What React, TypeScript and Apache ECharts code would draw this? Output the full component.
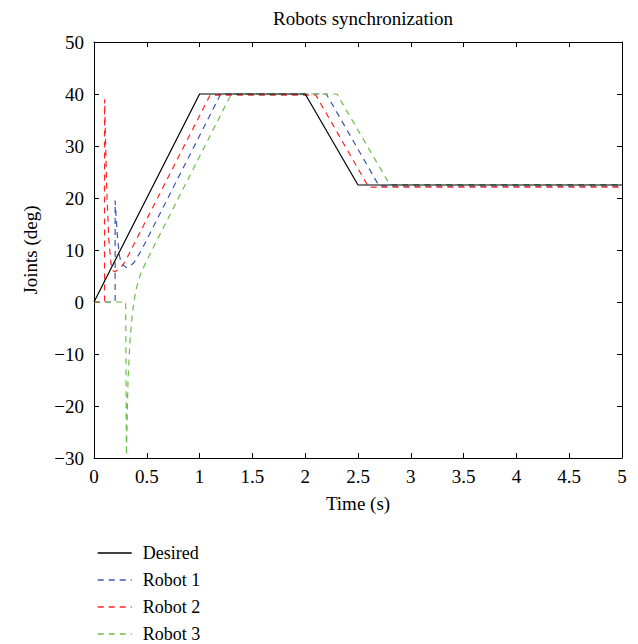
import React, { useEffect, useRef } from "react";
import * as echarts from "echarts";

const desiredT = [0, 1, 2, 2.5, 5];
const desiredV = [0, 40, 40, 22.5, 22.5];

const robot1T = [0, 0.2, 0.2, 0.22, 0.24, 0.26, 0.28, 0.31, 0.34, 0.38, 0.45, 1.2, 2.2, 2.7, 5];
const robot1V = [0, 0, 19.5, 13, 9, 7.3, 7, 6.6, 6.9, 7.6, 10, 40, 40, 22.3, 22.3];

const robot2T = [0, 0.1, 0.1, 0.12, 0.14, 0.16, 0.18, 0.2, 0.23, 0.27, 0.3, 1.1, 2.1, 2.6, 5];
const robot2V = [0, 0, 39, 22, 12, 7.5, 6, 5.8, 6.3, 7, 8, 39.8, 39.8, 22.1, 22.1];

const robot3T = [0, 0.3, 0.307, 0.322, 0.341, 0.363, 0.395, 0.442, 0.505, 1.3, 2.3, 2.8, 5];
const robot3V = [0, 0, -29.5, -15, -7.4, -2.2, 2.2, 5.5, 8.2, 40, 40, 22.6, 22.6];

const seriesNames = ["Desired", "Robot 1", "Robot 2", "Robot 3"];
const titleText = "Robots synchronization";
const xName = "Time (s)";
const yName = "Joints (deg)";

const FONT = "'Liberation Serif', 'Times New Roman', serif";
const FS = 19;

function pairs(t: number[], v: number[]) {
  return t.map((x, i) => [x, v[i]]);
}

export default function App() {
  const ref = useRef<HTMLDivElement>(null);
  useEffect(() => {
    if (!ref.current) return;
    const chart = echarts.init(ref.current, undefined, { renderer: "svg" });
    const axisCommon = {
      axisLine: { show: true, onZero: false, lineStyle: { color: "#000", width: 1 } },
      axisTick: { show: true, inside: true, length: 5, lineStyle: { color: "#000" } },
      splitLine: { show: false },
    };
    const lineCfg = (name: string, data: number[][], color: string, dashed: boolean) => ({
      name,
      type: "line",
      data,
      symbol: "none",
      showSymbol: false,
      lineStyle: { color, width: 1.2, type: dashed ? [6, 5] : "solid" },
      itemStyle: { color },
      z: dashed ? 2 : 3,
    });
    chart.setOption({
      animation: false,
      backgroundColor: "#fff",
      textStyle: { fontFamily: FONT },
      title: {
        text: titleText,
        left: 358,
        textAlign: "center",
        top: 4,
        textStyle: { fontFamily: FONT, fontSize: FS, fontWeight: "normal", color: "#000" },
      },
      grid: { left: 94, right: 16, top: 42, bottom: 186 },
      legend: {
        orient: "vertical",
        left: 97,
        top: 544,
        height: 120,
        padding: 0,
        itemWidth: 34,
        itemHeight: 14,
        itemGap: 9,
        data: seriesNames.map((n) => ({ name: n, itemStyle: { opacity: 0 } })),
        lineStyle: { width: 1.4 },
        textStyle: { fontFamily: FONT, fontSize: 18, color: "#000", padding: [0, 0, 0, 6] },
      },
      xAxis: [
        {
          type: "value",
          min: 0,
          max: 5,
          interval: 0.5,
          position: "bottom",
          name: xName,
          nameLocation: "middle",
          nameGap: 36,
          nameTextStyle: { fontFamily: FONT, fontSize: FS, color: "#000" },
          axisLabel: { fontFamily: FONT, fontSize: FS, color: "#000", margin: 9 },
          ...axisCommon,
        },
        {
          type: "value",
          min: 0,
          max: 5,
          interval: 0.5,
          position: "top",
          axisLabel: { show: false },
          ...axisCommon,
        },
      ],
      yAxis: [
        {
          type: "value",
          min: -30,
          max: 50,
          interval: 10,
          position: "left",
          name: yName,
          nameLocation: "middle",
          nameGap: 54,
          nameTextStyle: { fontFamily: FONT, fontSize: FS, color: "#000" },
          axisLabel: {
            fontFamily: FONT,
            fontSize: FS,
            color: "#000",
            margin: 10,
            formatter: (v: number) => (v < 0 ? "\u2212" + Math.abs(v) : String(v)),
          },
          ...axisCommon,
        },
        {
          type: "value",
          min: -30,
          max: 50,
          interval: 10,
          position: "right",
          axisLabel: { show: false },
          ...axisCommon,
        },
      ],
      series: [
        lineCfg(seriesNames[0], pairs(desiredT, desiredV), "#000000", false),
        lineCfg(seriesNames[1], pairs(robot1T, robot1V), "#3a58b0", true),
        lineCfg(seriesNames[2], pairs(robot2T, robot2V), "#ff2424", true),
        lineCfg(seriesNames[3], pairs(robot3T, robot3V), "#6cbd48", true),
      ],
    });
    return () => chart.dispose();
  }, []);
  return <div ref={ref} style={{ width: 638, height: 644, position: "absolute", left: 0, top: 0 }} />;
}
